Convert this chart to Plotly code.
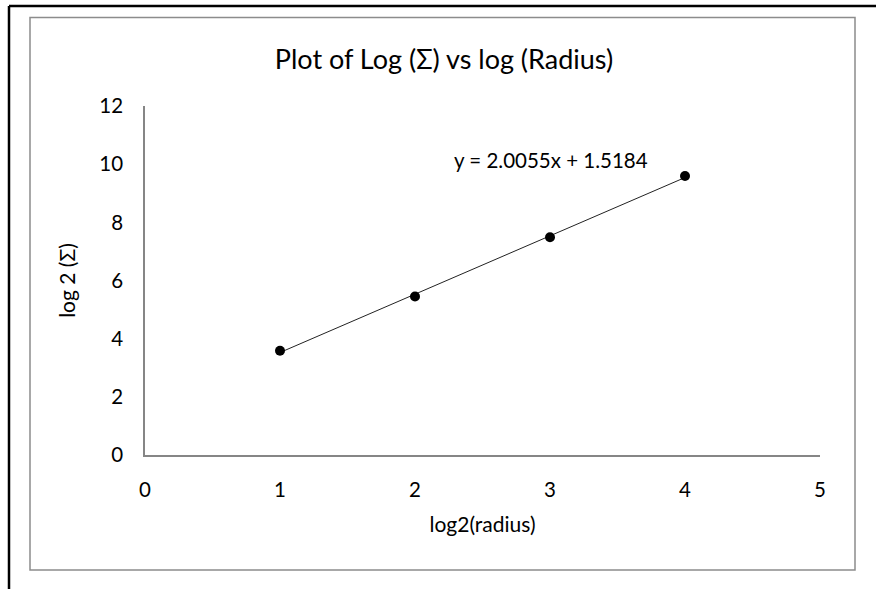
import plotly.graph_objects as go

# Data
log2_radius = [1, 2, 3, 4]
log2_sigma = [3.585, 5.45, 7.49, 9.595]
slope = 2.0055
intercept = 1.5184
x_ticks = [0, 1, 2, 3, 4, 5]
y_ticks = [0, 2, 4, 6, 8, 10, 12]

W, H = 876, 589
L, R, T, B = 145, 820, 106, 455

def px(x):
    return (x - L) / (R - L)

def py(y):
    return (B - y) / (B - T)

FONT = "Lato, 'Open Sans', sans-serif"

fig = go.Figure()
trend_x = [log2_radius[0], log2_radius[-1]]
trend_y = [slope * v + intercept for v in trend_x]
fig.add_trace(go.Scatter(x=trend_x, y=trend_y, mode="lines",
                         line=dict(color="#222222", width=1), hoverinfo="skip",
                         showlegend=False))
fig.add_trace(go.Scatter(x=log2_radius, y=log2_sigma, mode="markers",
                         marker=dict(color="black", size=10), showlegend=False))

fig.add_annotation(x=3.007, y=10.14, xref="x", yref="y",
                   text=f"y = {slope:.4f}x + {intercept:.4f}", showarrow=False,
                   font=dict(family=FONT, size=20.5, color="black"))

shapes = [
    # outer black frame (top and left)
    dict(type="line", xref="paper", yref="paper", x0=px(9), x1=px(880), y0=py(6), y1=py(6),
         line=dict(color="black", width=2.5)),
    dict(type="line", xref="paper", yref="paper", x0=px(9), x1=px(9), y0=py(6), y1=py(595),
         line=dict(color="black", width=2.5)),
    # chart area border
    dict(type="rect", xref="paper", yref="paper", x0=px(30), x1=px(855), y0=py(17.5), y1=py(570),
         line=dict(color="#8c8c8c", width=1.5)),
]

fig.update_layout(
    width=W, height=H,
    margin=dict(l=L, r=W - R, t=T, b=H - B, pad=0),
    paper_bgcolor="white", plot_bgcolor="white",
    font=dict(family=FONT, size=20, color="black"),
    shapes=shapes,
    title=dict(text="Plot of Log (Σ) vs log (Radius)", x=px(444), xref="paper",
               xanchor="center", y=1 - 60 / H, yanchor="middle",
               font=dict(family=FONT, size=27, color="black")),
    xaxis=dict(range=[0, 5], tickvals=x_ticks, showgrid=False, zeroline=False,
               showline=True, linecolor="#868686", linewidth=1.5, ticks="",
               ticklabelstandoff=16, tickfont=dict(size=20.5),
               title=dict(text="log2(radius)", standoff=17, font=dict(size=21))),
    yaxis=dict(range=[0, 12], tickvals=y_ticks, showgrid=False, zeroline=False,
               showline=True, linecolor="#868686", linewidth=1.5, ticks="",
               ticklabelstandoff=16, tickfont=dict(size=20.5),
               title=dict(text="log 2 (Σ)", standoff=18, font=dict(size=21))),
)

fig.write_html("out.html")
